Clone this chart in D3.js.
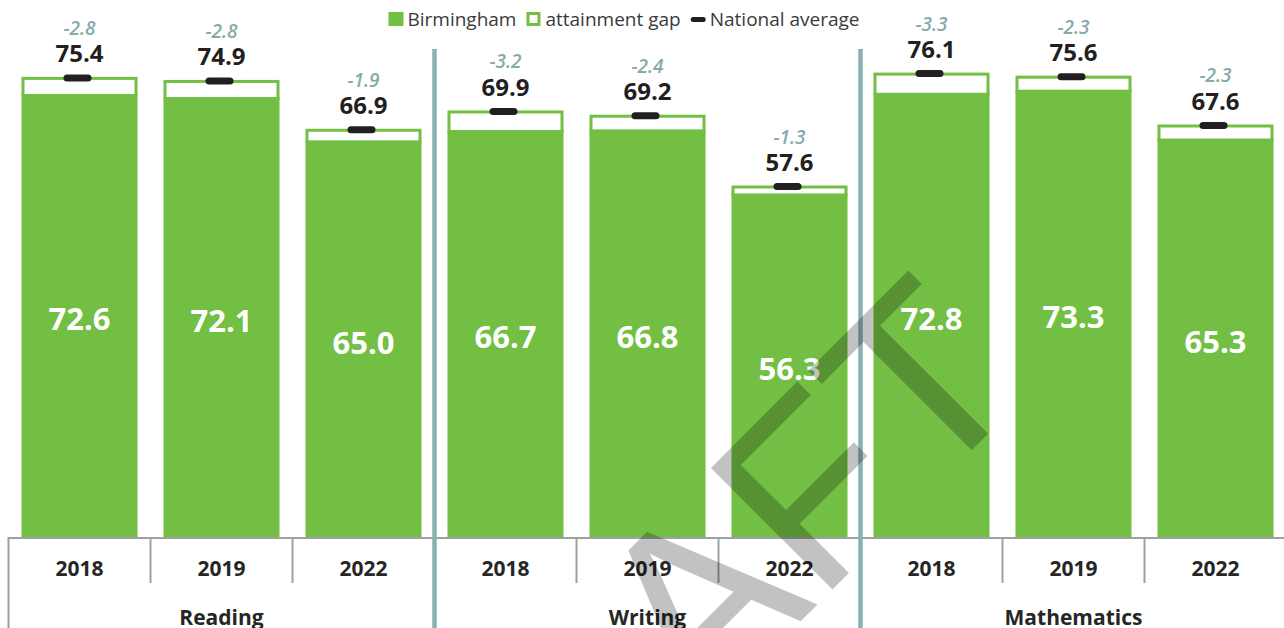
<!DOCTYPE html>
<html lang="en">
<head>
<meta charset="utf-8">
<title>Birmingham attainment</title>
<style>
  html, body { margin: 0; padding: 0; background: #fff; }
  svg { display: block; font-family: "Open Sans", "Noto Sans", sans-serif; }
</style>
</head>
<body>
<div id="chart"></div>
<script src="https://d3js.org/d3.v7.min.js"></script>
<script>
// Data
var subjects = ["Reading", "Writing", "Mathematics"];
var years = ["2018", "2019", "2022"];
var birmingham = [72.6, 72.1, 65.0, 66.7, 66.8, 56.3, 72.8, 73.3, 65.3];
var national = [75.4, 74.9, 66.9, 69.9, 69.2, 57.6, 76.1, 75.6, 67.6];
var gapLabels = [-2.8, -2.8, -1.9, -3.2, -2.4, -1.3, -3.3, -2.3, -2.3];
var legendNames = ["Birmingham", "attainment gap", "National average"];

var width = 1284, height = 628;
var green = "#72bf44", teal = "#88b1b1", axisGrey = "#a0a0a0";

// one row per bar
var rows = [];
subjects.forEach(function (s, si) {
   years.forEach(function (yr, yi) {
      var i = si * years.length + yi;
      rows.push({
         key: s + "-" + yr, subject: s, year: yr,
         b: birmingham[i], n: national[i], gap: gapLabels[i]
      });
   });
});

var svg = d3.select("#chart").append("svg")
   .attr("width", width)
   .attr("height", height);

var x = d3.scaleBand()
   .domain(rows.map(d => d.key))
   .range([8.5, 1286.5])
   .paddingInner(0.183)
   .paddingOuter(0.0915);

var y = d3.scaleLinear()
   .domain([0, 88])
   .range([537, 0]);

var x0 = x.range()[0], step = x.step();
var baseY = y(0);

// Birmingham bars
svg.append("g")
   .selectAll("rect")
   .data(rows)
   .join("rect")
   .attr("x", d => x(d.key))
   .attr("y", d => y(d.b))
   .attr("width", x.bandwidth())
   .attr("height", d => baseY - y(d.b))
   .attr("fill", green);

// attainment gap (outlined box between Birmingham and national)
svg.append("g")
   .selectAll("rect")
   .data(rows)
   .join("rect")
   .attr("x", d => x(d.key) + 1.5)
   .attr("y", d => y(d.n) + 1.5)
   .attr("width", x.bandwidth() - 3)
   .attr("height", d => y(d.b) - y(d.n))
   .attr("fill", "#fff")
   .attr("stroke", green)
   .attr("stroke-width", 3);

// axis line
svg.append("line")
   .attr("x1", x0).attr("x2", width)
   .attr("y1", baseY + 1).attr("y2", baseY + 1)
   .attr("stroke", axisGrey).attr("stroke-width", 2);

// tick lines between years and subjects
d3.range(0, rows.length + 1).forEach(function (k) {
   var bx = x0 + k * step;
   var isGroup = k % years.length === 0;
   svg.append("line")
      .attr("x1", bx).attr("x2", bx)
      .attr("y1", baseY).attr("y2", isGroup ? height : 583)
      .attr("stroke", axisGrey).attr("stroke-width", 2);
});

// teal separators between subjects
svg.append("g")
   .selectAll("line")
   .data(subjects.slice(1))
   .join("line")
   .attr("x1", (d, i) => x0 + (i + 1) * years.length * step)
   .attr("x2", (d, i) => x0 + (i + 1) * years.length * step)
   .attr("y1", 49).attr("y2", height)
   .attr("stroke", teal).attr("stroke-width", 4.5);

// national average markers
svg.append("g")
   .selectAll("rect")
   .data(rows)
   .join("rect")
   .attr("x", d => x(d.key) + x.bandwidth() / 2 - 16)
   .attr("y", d => y(d.n) - 2.5)
   .attr("width", 28)
   .attr("height", 7)
   .attr("rx", 3.5)
   .attr("fill", "#231f20");

var cx = d => x(d.key) + x.bandwidth() / 2;

// national value labels
svg.append("g")
   .selectAll("text")
   .data(rows)
   .join("text")
   .attr("x", cx)
   .attr("y", d => y(d.n) - 14.5)
   .attr("text-anchor", "middle")
   .attr("font-size", 24)
   .attr("font-weight", 700)
   .attr("fill", "#231f20")
   .text(d => d.n.toFixed(1));

// gap labels
svg.append("g")
   .selectAll("text")
   .data(rows)
   .join("text")
   .attr("x", cx)
   .attr("y", d => y(d.n) - 42)
   .attr("text-anchor", "middle")
   .attr("font-size", 19)
   .attr("font-weight", 600)
   .attr("font-style", "italic")
   .attr("fill", "#86aaaa")
   .text(d => d.gap.toFixed(1));

// Birmingham values inside bars
svg.append("g")
   .selectAll("text")
   .data(rows)
   .join("text")
   .attr("x", cx)
   .attr("y", d => (y(d.b) + baseY) / 2 + 15)
   .attr("text-anchor", "middle")
   .attr("font-size", 31)
   .attr("font-weight", 700)
   .attr("fill", "#fff")
   .text(d => d.b.toFixed(1));

// year labels
svg.append("g")
   .selectAll("text")
   .data(rows)
   .join("text")
   .attr("x", cx)
   .attr("y", 576)
   .attr("text-anchor", "middle")
   .attr("font-size", 21)
   .attr("font-weight", 700)
   .attr("fill", "#262626")
   .text(d => d.year);

// subject labels
svg.append("g")
   .selectAll("text")
   .data(subjects)
   .join("text")
   .attr("x", (d, i) => x0 + (i + 0.5) * years.length * step)
   .attr("y", 625)
   .attr("text-anchor", "middle")
   .attr("font-size", 21)
   .attr("font-weight", 700)
   .attr("fill", "#262626")
   .text(d => d);

// legend
var legend = svg.append("g").attr("transform", "translate(0,0)");
var lx = 0;
legendNames.forEach(function (name, i) {
   var g = legend.append("g").attr("transform", "translate(" + lx + ",0)");
   if (i === 0) {
      g.append("rect").attr("x", 0).attr("y", 12).attr("width", 15).attr("height", 14).attr("fill", green);
   } else if (i === 1) {
      g.append("rect").attr("x", 1.5).attr("y", 13.5).attr("width", 11).attr("height", 11)
         .attr("fill", "#fff").attr("stroke", green).attr("stroke-width", 3);
   } else {
      g.append("rect").attr("x", 0).attr("y", 17).attr("width", 15).attr("height", 5)
         .attr("rx", 2.5).attr("fill", "#231f20");
   }
   var t = g.append("text")
      .attr("x", 19).attr("y", 26)
      .attr("font-size", 19)
      .attr("fill", "#3a3a3a")
      .text(name);
   lx += 19 + t.node().getComputedTextLength() + 10;
});
legend.attr("transform", "translate(" + (624 - (lx - 10) / 2) + ",0)");

// DRAFT watermark
svg.append("text")
   .attr("transform", "translate(1034,388) rotate(-45)")
   .attr("text-anchor", "end")
   .attr("font-family", "'Liberation Sans', Arial, sans-serif")
   .attr("font-size", 250)
   .attr("fill", "#000")
   .attr("fill-opacity", 0.24)
   .text("DRAFT");
</script>
</body>
</html>
